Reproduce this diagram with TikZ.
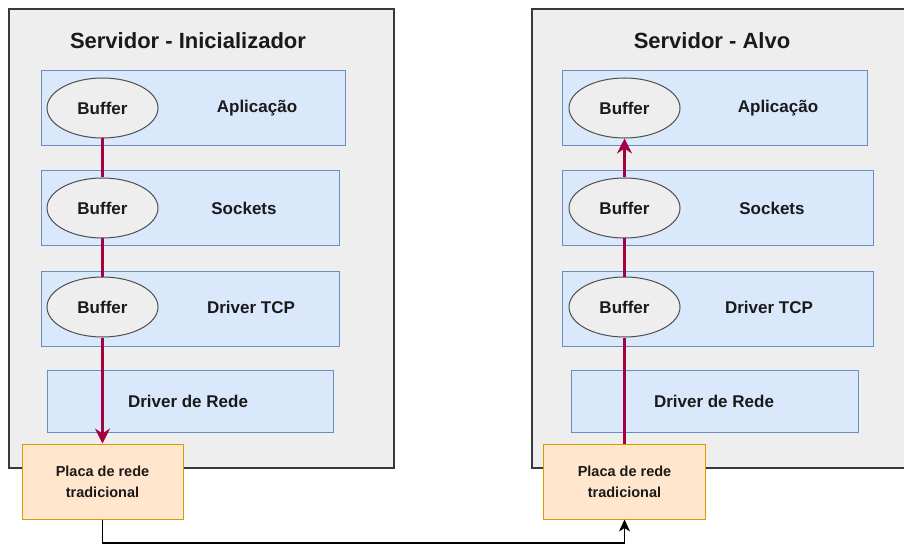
\documentclass[tikz,border=0pt]{standalone}
\usepackage{fontspec}
\setmainfont{Liberation Sans}
\usetikzlibrary{arrows.meta,shapes.geometric}

\definecolor{srvfill}{HTML}{EEEEEE}
\definecolor{srvline}{HTML}{36393D}
\definecolor{layerfill}{HTML}{DAE8FC}
\definecolor{layerline}{HTML}{6C8EBF}
\definecolor{buffill}{HTML}{EEEEEE}
\definecolor{bufline}{HTML}{4D4D4D}
\definecolor{nicfill}{HTML}{FFE6CC}
\definecolor{nicline}{HTML}{D79B00}
\definecolor{flow}{HTML}{A50040}
\definecolor{ink}{HTML}{1A1A1A}

\tikzset{
  server/.style={draw=srvline, fill=srvfill, line width=1.3pt, rectangle, inner sep=0pt},
  srvtitle/.style={font=\bfseries\fontsize{22}{26}\selectfont, text=ink},
  layer/.style={draw=layerline, fill=layerfill, line width=1pt, rectangle, inner sep=0pt, minimum height=75pt},
  layertext/.style={font=\bfseries\fontsize{17}{20}\selectfont, text=ink},
  buffer/.style={ellipse, draw=bufline, fill=buffill, line width=1pt, inner sep=0pt,
    minimum width=111pt, minimum height=60pt, font=\bfseries\fontsize{17}{20}\selectfont, text=ink},
  nic/.style={draw=nicline, fill=nicfill, line width=1pt, rectangle, inner sep=0pt,
    minimum height=75pt, align=center, font=\bfseries\fontsize{14.5}{21}\selectfont, text=ink},
  dataflow/.style={draw=flow, line width=2.2pt},
  dataarrow/.style={dataflow, -{Stealth[length=15pt,width=15pt,inset=5pt]}},
  wire/.style={draw=black, line width=1.2pt, -{Stealth[length=12pt,width=11pt,inset=3.5pt]}},
}

\begin{document}
\begin{tikzpicture}[x=1pt, y=-1pt]
\useasboundingbox (0,0) rectangle (904,545);
\clip (0,0) rectangle (904,545);

% ---- initiating server ----
\node[server, minimum width=385pt, minimum height=459pt] (srvA) at (201.5,238.5) {};
\node[srvtitle] (titleA) at (188,41) {Servidor - Inicializador};

\node[layer, minimum width=304pt] (appA)  at (193,108.5) {};
\node[layer, minimum width=298pt] (sockA) at (190,208.5) {};
\node[layer, minimum width=298pt] (tcpA)  at (190,308.5) {};
\node[layer, minimum width=286pt, minimum height=62pt] (redeA) at (190,401) {};

\node[buffer] (bufA1) at (102.5,108) {Buffer};
\node[buffer] (bufA2) at (102.5,208) {Buffer};
\node[buffer] (bufA3) at (102.5,307) {Buffer};

\node[layertext] (lblAppA)  at (257,108) {Aplicação};
\node[layertext] (lblSockA) at (244,208) {Sockets};
\node[layertext] (lblTcpA)  at (251,307) {Driver TCP};
\node[layertext] (lblRedeA) at (188,401) {Driver de Rede};

\node[nic, minimum width=161pt] (placaA) at (102.5,481.5) {Placa de rede\\tradicional};

% ---- target server ----
\node[server, minimum width=380pt, minimum height=459pt] (srvB) at (722,238.5) {};
\node[srvtitle] (titleB) at (712,41) {Servidor - Alvo};

\node[layer, minimum width=305pt] (appB)  at (714.5,108.5) {};
\node[layer, minimum width=311pt] (sockB) at (717.5,208.5) {};
\node[layer, minimum width=311pt] (tcpB)  at (717.5,308.5) {};
\node[layer, minimum width=287pt, minimum height=62pt] (redeB) at (714.5,401) {};

\node[buffer] (bufB1) at (624.5,108) {Buffer};
\node[buffer] (bufB2) at (624.5,208) {Buffer};
\node[buffer] (bufB3) at (624.5,307) {Buffer};

\node[layertext] (lblAppB)  at (778,108) {Aplicação};
\node[layertext] (lblSockB) at (772,208) {Sockets};
\node[layertext] (lblTcpB)  at (769,307) {Driver TCP};
\node[layertext] (lblRedeB) at (714,401) {Driver de Rede};

\node[nic, minimum width=162pt] (placaB) at (624.5,481.5) {Placa de rede\\tradicional};

% ---- data path down the sending stack ----
\draw[dataflow]  (bufA1.south) -- (bufA2.north);
\draw[dataflow]  (bufA2.south) -- (bufA3.north);
\draw[dataarrow] (bufA3.south) -- (placaA.north);

% ---- data path up the receiving stack ----
\draw[dataflow]  (placaB.north) -- (bufB3.south);
\draw[dataflow]  (bufB3.north) -- (bufB2.south);
\draw[dataarrow] (bufB2.north) -- (bufB1.south);

% ---- network link between the cards ----
\coordinate (linkY) at (0,543);
\draw[wire] (placaA.south) -- (placaA.south |- linkY) -| (placaB.south);
\end{tikzpicture}
\end{document}
